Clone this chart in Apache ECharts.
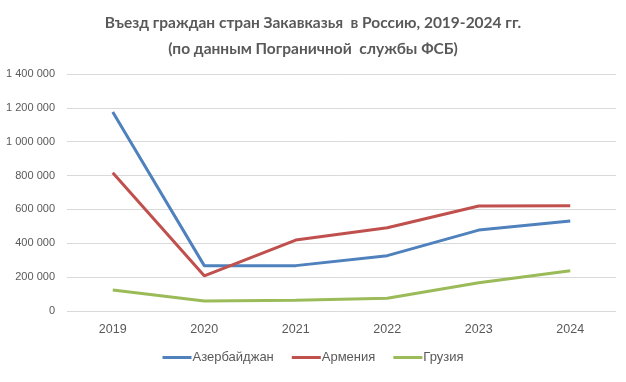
<!DOCTYPE html>
<html><head><meta charset="utf-8">
<script src="https://cdn.jsdelivr.net/npm/echarts@6/dist/echarts.min.js"></script>
<style>html,body{margin:0;padding:0;background:#fff}#c{width:626px;height:382px}</style>
</head><body><div id="c"></div>
<script>
const categories = ['2019','2020','2021','2022','2023','2024'];
const azerbaijan = [1175000, 268000, 268000, 327000, 478000, 532000];
const armenia = [817000, 208000, 419000, 492000, 620000, 621000];
const georgia = [124000, 59000, 63000, 75000, 167000, 238000];
const seriesNames = ['Азербайджан','Армения','Грузия'];
const colors = ['#4F81BD','#C0504D','#9BBB59'];
const titleLines = ['Въезд граждан стран Закавказья  в Россию, 2019-2024 гг.','(по данным Пограничной  службы ФСБ)'];

const fmt = v => String(v).replace(/\B(?=(\d{3})+(?!\d))/g, ' ');
const chart = echarts.init(document.getElementById('c'));
const mk = (name, data, color) => ({
  name, type:'line', data, symbol:'none', smooth:false,
  lineStyle:{color, width:3}, itemStyle:{color}
});
chart.setOption({
  animation:false,
  color: colors,
  title:{
    text: titleLines.join('\n'), left:'center', top:5,
    textStyle:{fontFamily:'Lato, Open Sans', fontWeight:'bold', fontSize:15.5, color:'#595959', lineHeight:26}
  },
  grid:{left:67, right:10, top:74, bottom:71, containLabel:false},
  xAxis:{
    type:'category', data:categories, boundaryGap:true,
    axisLine:{show:false}, axisTick:{show:false},
    axisLabel:{color:'#595959', fontFamily:'Liberation Sans', fontSize:12.5, margin:12}
  },
  yAxis:{
    type:'value', min:0, max:1400000, interval:200000,
    axisLine:{show:false}, axisTick:{show:false},
    splitLine:{lineStyle:{color:'#D9D9D9', width:1}},
    axisLabel:{color:'#595959', fontFamily:'Liberation Sans', fontSize:11, margin:12, formatter:fmt}
  },
  legend:{
    bottom:13, left:'center', itemWidth:29, itemHeight:3, itemGap:18, icon:'rect',
    textStyle:{color:'#595959', fontFamily:'Liberation Sans', fontSize:13, padding:[0,0,0,-4]},
    data: seriesNames
  },
  series:[mk(seriesNames[0], azerbaijan, colors[0]), mk(seriesNames[1], armenia, colors[1]), mk(seriesNames[2], georgia, colors[2])]
});
</script></body></html>
